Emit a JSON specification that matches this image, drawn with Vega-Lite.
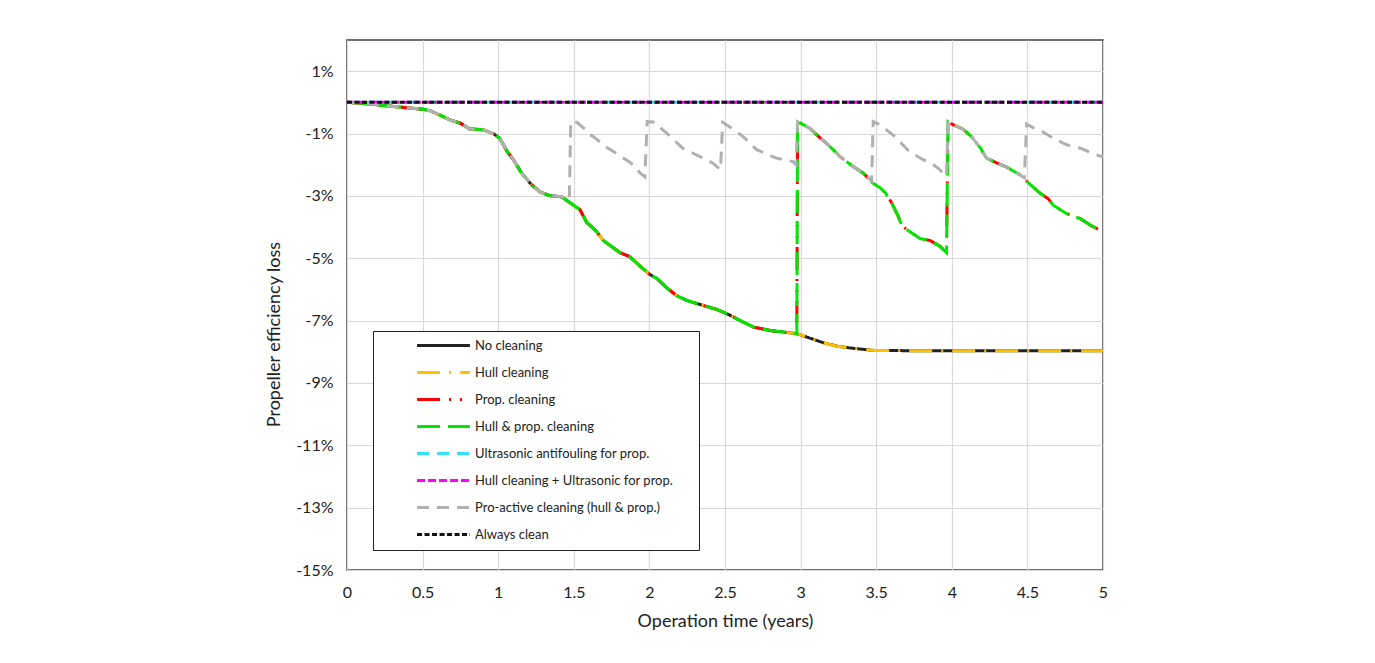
{
  "$schema": "https://vega.github.io/schema/vega-lite/v6.json",
  "width": 756,
  "height": 530,
  "autosize": {"type": "none"},
  "padding": {"left": 347, "top": 40, "right": 272, "bottom": 93},
  "background": "white",
  "config": {
    "font": "Lato",
    "view": {"stroke": "#404040", "strokeWidth": 1.5},
    "axis": {"labelFont": "Lato", "titleFont": "Lato", "labelColor": "#222", "titleColor": "#222", "titleFontWeight": "normal"}
  },
  "data": {
    "values": [
      {"s": "No cleaning", "t": 0, "v": 0}, {"s": "No cleaning", "t": 0.1, "v": -0.03}, {"s": "No cleaning", "t": 0.22, "v": -0.09}, {"s": "No cleaning", "t": 0.39, "v": -0.17}, {"s": "No cleaning", "t": 0.5, "v": -0.22}, {"s": "No cleaning", "t": 0.55, "v": -0.27}, {"s": "No cleaning", "t": 0.615, "v": -0.41}, {"s": "No cleaning", "t": 0.68, "v": -0.56}, {"s": "No cleaning", "t": 0.75, "v": -0.67}, {"s": "No cleaning", "t": 0.81, "v": -0.85}, {"s": "No cleaning", "t": 0.9, "v": -0.88}, {"s": "No cleaning", "t": 0.97, "v": -1.01}, {"s": "No cleaning", "t": 1.01, "v": -1.15}, {"s": "No cleaning", "t": 1.06, "v": -1.58}, {"s": "No cleaning", "t": 1.1, "v": -1.84}, {"s": "No cleaning", "t": 1.155, "v": -2.27}, {"s": "No cleaning", "t": 1.22, "v": -2.64}, {"s": "No cleaning", "t": 1.28, "v": -2.88}, {"s": "No cleaning", "t": 1.34, "v": -2.99}, {"s": "No cleaning", "t": 1.42, "v": -3.03}, {"s": "No cleaning", "t": 1.475, "v": -3.22}, {"s": "No cleaning", "t": 1.54, "v": -3.44}, {"s": "No cleaning", "t": 1.585, "v": -3.85}, {"s": "No cleaning", "t": 1.65, "v": -4.14}, {"s": "No cleaning", "t": 1.695, "v": -4.43}, {"s": "No cleaning", "t": 1.74, "v": -4.59}, {"s": "No cleaning", "t": 1.806, "v": -4.82}, {"s": "No cleaning", "t": 1.87, "v": -4.95}, {"s": "No cleaning", "t": 1.94, "v": -5.26}, {"s": "No cleaning", "t": 2.0, "v": -5.51}, {"s": "No cleaning", "t": 2.05, "v": -5.65}, {"s": "No cleaning", "t": 2.11, "v": -5.93}, {"s": "No cleaning", "t": 2.18, "v": -6.2}, {"s": "No cleaning", "t": 2.25, "v": -6.36}, {"s": "No cleaning", "t": 2.36, "v": -6.52}, {"s": "No cleaning", "t": 2.45, "v": -6.65}, {"s": "No cleaning", "t": 2.53, "v": -6.82}, {"s": "No cleaning", "t": 2.6, "v": -7.0}, {"s": "No cleaning", "t": 2.69, "v": -7.21}, {"s": "No cleaning", "t": 2.8, "v": -7.32}, {"s": "No cleaning", "t": 2.89, "v": -7.37}, {"s": "No cleaning", "t": 2.975, "v": -7.42}, {"s": "No cleaning", "t": 3.06, "v": -7.56}, {"s": "No cleaning", "t": 3.15, "v": -7.71}, {"s": "No cleaning", "t": 3.24, "v": -7.82}, {"s": "No cleaning", "t": 3.33, "v": -7.88}, {"s": "No cleaning", "t": 3.49, "v": -7.96}, {"s": "No cleaning", "t": 4.0, "v": -7.97}, {"s": "No cleaning", "t": 5.0, "v": -7.97},

      {"s": "Hull cleaning", "t": 0, "v": 0}, {"s": "Hull cleaning", "t": 0.1, "v": -0.03}, {"s": "Hull cleaning", "t": 0.22, "v": -0.09}, {"s": "Hull cleaning", "t": 0.39, "v": -0.17}, {"s": "Hull cleaning", "t": 0.5, "v": -0.22}, {"s": "Hull cleaning", "t": 0.55, "v": -0.27}, {"s": "Hull cleaning", "t": 0.615, "v": -0.41}, {"s": "Hull cleaning", "t": 0.68, "v": -0.56}, {"s": "Hull cleaning", "t": 0.75, "v": -0.67}, {"s": "Hull cleaning", "t": 0.81, "v": -0.85}, {"s": "Hull cleaning", "t": 0.9, "v": -0.88}, {"s": "Hull cleaning", "t": 0.97, "v": -1.01}, {"s": "Hull cleaning", "t": 1.01, "v": -1.15}, {"s": "Hull cleaning", "t": 1.06, "v": -1.58}, {"s": "Hull cleaning", "t": 1.1, "v": -1.84}, {"s": "Hull cleaning", "t": 1.155, "v": -2.27}, {"s": "Hull cleaning", "t": 1.22, "v": -2.64}, {"s": "Hull cleaning", "t": 1.28, "v": -2.88}, {"s": "Hull cleaning", "t": 1.34, "v": -2.99}, {"s": "Hull cleaning", "t": 1.42, "v": -3.03}, {"s": "Hull cleaning", "t": 1.475, "v": -3.22}, {"s": "Hull cleaning", "t": 1.54, "v": -3.44}, {"s": "Hull cleaning", "t": 1.585, "v": -3.85}, {"s": "Hull cleaning", "t": 1.65, "v": -4.14}, {"s": "Hull cleaning", "t": 1.695, "v": -4.43}, {"s": "Hull cleaning", "t": 1.74, "v": -4.59}, {"s": "Hull cleaning", "t": 1.806, "v": -4.82}, {"s": "Hull cleaning", "t": 1.87, "v": -4.95}, {"s": "Hull cleaning", "t": 1.94, "v": -5.26}, {"s": "Hull cleaning", "t": 2.0, "v": -5.51}, {"s": "Hull cleaning", "t": 2.05, "v": -5.65}, {"s": "Hull cleaning", "t": 2.11, "v": -5.93}, {"s": "Hull cleaning", "t": 2.18, "v": -6.2}, {"s": "Hull cleaning", "t": 2.25, "v": -6.36}, {"s": "Hull cleaning", "t": 2.36, "v": -6.52}, {"s": "Hull cleaning", "t": 2.45, "v": -6.65}, {"s": "Hull cleaning", "t": 2.53, "v": -6.82}, {"s": "Hull cleaning", "t": 2.6, "v": -7.0}, {"s": "Hull cleaning", "t": 2.69, "v": -7.21}, {"s": "Hull cleaning", "t": 2.8, "v": -7.32}, {"s": "Hull cleaning", "t": 2.89, "v": -7.37}, {"s": "Hull cleaning", "t": 2.975, "v": -7.42}, {"s": "Hull cleaning", "t": 3.06, "v": -7.56}, {"s": "Hull cleaning", "t": 3.15, "v": -7.71}, {"s": "Hull cleaning", "t": 3.24, "v": -7.82}, {"s": "Hull cleaning", "t": 3.33, "v": -7.88}, {"s": "Hull cleaning", "t": 3.49, "v": -7.96}, {"s": "Hull cleaning", "t": 4.0, "v": -7.97}, {"s": "Hull cleaning", "t": 5.0, "v": -7.97},

      {"s": "Prop. cleaning", "t": 0, "v": 0}, {"s": "Prop. cleaning", "t": 0.1, "v": -0.03}, {"s": "Prop. cleaning", "t": 0.22, "v": -0.09}, {"s": "Prop. cleaning", "t": 0.39, "v": -0.17}, {"s": "Prop. cleaning", "t": 0.5, "v": -0.22}, {"s": "Prop. cleaning", "t": 0.55, "v": -0.27}, {"s": "Prop. cleaning", "t": 0.615, "v": -0.41}, {"s": "Prop. cleaning", "t": 0.68, "v": -0.56}, {"s": "Prop. cleaning", "t": 0.75, "v": -0.67}, {"s": "Prop. cleaning", "t": 0.81, "v": -0.85}, {"s": "Prop. cleaning", "t": 0.9, "v": -0.88}, {"s": "Prop. cleaning", "t": 0.97, "v": -1.01}, {"s": "Prop. cleaning", "t": 1.01, "v": -1.15}, {"s": "Prop. cleaning", "t": 1.06, "v": -1.58}, {"s": "Prop. cleaning", "t": 1.1, "v": -1.84}, {"s": "Prop. cleaning", "t": 1.155, "v": -2.27}, {"s": "Prop. cleaning", "t": 1.22, "v": -2.64}, {"s": "Prop. cleaning", "t": 1.28, "v": -2.88}, {"s": "Prop. cleaning", "t": 1.34, "v": -2.99}, {"s": "Prop. cleaning", "t": 1.42, "v": -3.03}, {"s": "Prop. cleaning", "t": 1.475, "v": -3.22}, {"s": "Prop. cleaning", "t": 1.54, "v": -3.44}, {"s": "Prop. cleaning", "t": 1.585, "v": -3.85}, {"s": "Prop. cleaning", "t": 1.65, "v": -4.14}, {"s": "Prop. cleaning", "t": 1.695, "v": -4.43}, {"s": "Prop. cleaning", "t": 1.74, "v": -4.59}, {"s": "Prop. cleaning", "t": 1.806, "v": -4.82}, {"s": "Prop. cleaning", "t": 1.87, "v": -4.95}, {"s": "Prop. cleaning", "t": 1.94, "v": -5.26}, {"s": "Prop. cleaning", "t": 2.0, "v": -5.51}, {"s": "Prop. cleaning", "t": 2.05, "v": -5.65}, {"s": "Prop. cleaning", "t": 2.11, "v": -5.93}, {"s": "Prop. cleaning", "t": 2.18, "v": -6.2}, {"s": "Prop. cleaning", "t": 2.25, "v": -6.36}, {"s": "Prop. cleaning", "t": 2.36, "v": -6.52}, {"s": "Prop. cleaning", "t": 2.45, "v": -6.65}, {"s": "Prop. cleaning", "t": 2.53, "v": -6.82}, {"s": "Prop. cleaning", "t": 2.6, "v": -7.0}, {"s": "Prop. cleaning", "t": 2.69, "v": -7.21}, {"s": "Prop. cleaning", "t": 2.8, "v": -7.32}, {"s": "Prop. cleaning", "t": 2.89, "v": -7.37}, {"s": "Prop. cleaning", "t": 2.975, "v": -7.42}, {"s": "Prop. cleaning", "t": 2.98, "v": -0.62}, {"s": "Prop. cleaning", "t": 3.02, "v": -0.72}, {"s": "Prop. cleaning", "t": 3.06, "v": -0.83}, {"s": "Prop. cleaning", "t": 3.13, "v": -1.15}, {"s": "Prop. cleaning", "t": 3.17, "v": -1.31}, {"s": "Prop. cleaning", "t": 3.24, "v": -1.63}, {"s": "Prop. cleaning", "t": 3.26, "v": -1.74}, {"s": "Prop. cleaning", "t": 3.305, "v": -1.9}, {"s": "Prop. cleaning", "t": 3.35, "v": -2.07}, {"s": "Prop. cleaning", "t": 3.415, "v": -2.27}, {"s": "Prop. cleaning", "t": 3.48, "v": -2.6}, {"s": "Prop. cleaning", "t": 3.525, "v": -2.74}, {"s": "Prop. cleaning", "t": 3.56, "v": -2.9}, {"s": "Prop. cleaning", "t": 3.6, "v": -3.2}, {"s": "Prop. cleaning", "t": 3.645, "v": -3.65}, {"s": "Prop. cleaning", "t": 3.67, "v": -3.95}, {"s": "Prop. cleaning", "t": 3.7, "v": -4.07}, {"s": "Prop. cleaning", "t": 3.79, "v": -4.37}, {"s": "Prop. cleaning", "t": 3.855, "v": -4.43}, {"s": "Prop. cleaning", "t": 3.92, "v": -4.61}, {"s": "Prop. cleaning", "t": 3.965, "v": -4.82}, {"s": "Prop. cleaning", "t": 3.975, "v": -0.62}, {"s": "Prop. cleaning", "t": 4.01, "v": -0.72}, {"s": "Prop. cleaning", "t": 4.075, "v": -0.86}, {"s": "Prop. cleaning", "t": 4.13, "v": -1.1}, {"s": "Prop. cleaning", "t": 4.19, "v": -1.47}, {"s": "Prop. cleaning", "t": 4.23, "v": -1.79}, {"s": "Prop. cleaning", "t": 4.3, "v": -1.95}, {"s": "Prop. cleaning", "t": 4.36, "v": -2.07}, {"s": "Prop. cleaning", "t": 4.45, "v": -2.32}, {"s": "Prop. cleaning", "t": 4.52, "v": -2.64}, {"s": "Prop. cleaning", "t": 4.58, "v": -2.9}, {"s": "Prop. cleaning", "t": 4.64, "v": -3.1}, {"s": "Prop. cleaning", "t": 4.67, "v": -3.3}, {"s": "Prop. cleaning", "t": 4.76, "v": -3.57}, {"s": "Prop. cleaning", "t": 4.85, "v": -3.73}, {"s": "Prop. cleaning", "t": 4.92, "v": -3.95}, {"s": "Prop. cleaning", "t": 5.0, "v": -4.15},

      {"s": "Hull & prop. cleaning", "t": 0, "v": 0}, {"s": "Hull & prop. cleaning", "t": 0.1, "v": -0.03}, {"s": "Hull & prop. cleaning", "t": 0.22, "v": -0.09}, {"s": "Hull & prop. cleaning", "t": 0.39, "v": -0.17}, {"s": "Hull & prop. cleaning", "t": 0.5, "v": -0.22}, {"s": "Hull & prop. cleaning", "t": 0.55, "v": -0.27}, {"s": "Hull & prop. cleaning", "t": 0.615, "v": -0.41}, {"s": "Hull & prop. cleaning", "t": 0.68, "v": -0.56}, {"s": "Hull & prop. cleaning", "t": 0.75, "v": -0.67}, {"s": "Hull & prop. cleaning", "t": 0.81, "v": -0.85}, {"s": "Hull & prop. cleaning", "t": 0.9, "v": -0.88}, {"s": "Hull & prop. cleaning", "t": 0.97, "v": -1.01}, {"s": "Hull & prop. cleaning", "t": 1.01, "v": -1.15}, {"s": "Hull & prop. cleaning", "t": 1.06, "v": -1.58}, {"s": "Hull & prop. cleaning", "t": 1.1, "v": -1.84}, {"s": "Hull & prop. cleaning", "t": 1.155, "v": -2.27}, {"s": "Hull & prop. cleaning", "t": 1.22, "v": -2.64}, {"s": "Hull & prop. cleaning", "t": 1.28, "v": -2.88}, {"s": "Hull & prop. cleaning", "t": 1.34, "v": -2.99}, {"s": "Hull & prop. cleaning", "t": 1.42, "v": -3.03}, {"s": "Hull & prop. cleaning", "t": 1.475, "v": -3.22}, {"s": "Hull & prop. cleaning", "t": 1.54, "v": -3.44}, {"s": "Hull & prop. cleaning", "t": 1.585, "v": -3.85}, {"s": "Hull & prop. cleaning", "t": 1.65, "v": -4.14}, {"s": "Hull & prop. cleaning", "t": 1.695, "v": -4.43}, {"s": "Hull & prop. cleaning", "t": 1.74, "v": -4.59}, {"s": "Hull & prop. cleaning", "t": 1.806, "v": -4.82}, {"s": "Hull & prop. cleaning", "t": 1.87, "v": -4.95}, {"s": "Hull & prop. cleaning", "t": 1.94, "v": -5.26}, {"s": "Hull & prop. cleaning", "t": 2.0, "v": -5.51}, {"s": "Hull & prop. cleaning", "t": 2.05, "v": -5.65}, {"s": "Hull & prop. cleaning", "t": 2.11, "v": -5.93}, {"s": "Hull & prop. cleaning", "t": 2.18, "v": -6.2}, {"s": "Hull & prop. cleaning", "t": 2.25, "v": -6.36}, {"s": "Hull & prop. cleaning", "t": 2.36, "v": -6.52}, {"s": "Hull & prop. cleaning", "t": 2.45, "v": -6.65}, {"s": "Hull & prop. cleaning", "t": 2.53, "v": -6.82}, {"s": "Hull & prop. cleaning", "t": 2.6, "v": -7.0}, {"s": "Hull & prop. cleaning", "t": 2.69, "v": -7.21}, {"s": "Hull & prop. cleaning", "t": 2.8, "v": -7.32}, {"s": "Hull & prop. cleaning", "t": 2.89, "v": -7.37}, {"s": "Hull & prop. cleaning", "t": 2.975, "v": -7.42}, {"s": "Hull & prop. cleaning", "t": 2.98, "v": -0.62}, {"s": "Hull & prop. cleaning", "t": 3.02, "v": -0.72}, {"s": "Hull & prop. cleaning", "t": 3.06, "v": -0.83}, {"s": "Hull & prop. cleaning", "t": 3.13, "v": -1.15}, {"s": "Hull & prop. cleaning", "t": 3.17, "v": -1.31}, {"s": "Hull & prop. cleaning", "t": 3.24, "v": -1.63}, {"s": "Hull & prop. cleaning", "t": 3.26, "v": -1.74}, {"s": "Hull & prop. cleaning", "t": 3.305, "v": -1.9}, {"s": "Hull & prop. cleaning", "t": 3.35, "v": -2.07}, {"s": "Hull & prop. cleaning", "t": 3.415, "v": -2.27}, {"s": "Hull & prop. cleaning", "t": 3.48, "v": -2.6}, {"s": "Hull & prop. cleaning", "t": 3.525, "v": -2.74}, {"s": "Hull & prop. cleaning", "t": 3.56, "v": -2.9}, {"s": "Hull & prop. cleaning", "t": 3.6, "v": -3.2}, {"s": "Hull & prop. cleaning", "t": 3.645, "v": -3.65}, {"s": "Hull & prop. cleaning", "t": 3.67, "v": -3.95}, {"s": "Hull & prop. cleaning", "t": 3.7, "v": -4.07}, {"s": "Hull & prop. cleaning", "t": 3.79, "v": -4.37}, {"s": "Hull & prop. cleaning", "t": 3.855, "v": -4.43}, {"s": "Hull & prop. cleaning", "t": 3.92, "v": -4.61}, {"s": "Hull & prop. cleaning", "t": 3.965, "v": -4.82}, {"s": "Hull & prop. cleaning", "t": 3.975, "v": -0.62}, {"s": "Hull & prop. cleaning", "t": 4.01, "v": -0.72}, {"s": "Hull & prop. cleaning", "t": 4.075, "v": -0.86}, {"s": "Hull & prop. cleaning", "t": 4.13, "v": -1.1}, {"s": "Hull & prop. cleaning", "t": 4.19, "v": -1.47}, {"s": "Hull & prop. cleaning", "t": 4.23, "v": -1.79}, {"s": "Hull & prop. cleaning", "t": 4.3, "v": -1.95}, {"s": "Hull & prop. cleaning", "t": 4.36, "v": -2.07}, {"s": "Hull & prop. cleaning", "t": 4.45, "v": -2.32}, {"s": "Hull & prop. cleaning", "t": 4.52, "v": -2.64}, {"s": "Hull & prop. cleaning", "t": 4.58, "v": -2.9}, {"s": "Hull & prop. cleaning", "t": 4.64, "v": -3.1}, {"s": "Hull & prop. cleaning", "t": 4.67, "v": -3.3}, {"s": "Hull & prop. cleaning", "t": 4.76, "v": -3.57}, {"s": "Hull & prop. cleaning", "t": 4.85, "v": -3.73}, {"s": "Hull & prop. cleaning", "t": 4.92, "v": -3.95}, {"s": "Hull & prop. cleaning", "t": 5.0, "v": -4.15},

      {"s": "Ultrasonic antifouling for prop.", "t": 0, "v": 0}, {"s": "Ultrasonic antifouling for prop.", "t": 5, "v": 0},
      {"s": "Hull cleaning + Ultrasonic for prop.", "t": 0, "v": 0}, {"s": "Hull cleaning + Ultrasonic for prop.", "t": 5, "v": 0},

      {"s": "Pro-active cleaning (hull & prop.)", "t": 0, "v": 0}, {"s": "Pro-active cleaning (hull & prop.)", "t": 0.1, "v": -0.03}, {"s": "Pro-active cleaning (hull & prop.)", "t": 0.22, "v": -0.09}, {"s": "Pro-active cleaning (hull & prop.)", "t": 0.39, "v": -0.17}, {"s": "Pro-active cleaning (hull & prop.)", "t": 0.5, "v": -0.22}, {"s": "Pro-active cleaning (hull & prop.)", "t": 0.55, "v": -0.27}, {"s": "Pro-active cleaning (hull & prop.)", "t": 0.615, "v": -0.41}, {"s": "Pro-active cleaning (hull & prop.)", "t": 0.68, "v": -0.56}, {"s": "Pro-active cleaning (hull & prop.)", "t": 0.75, "v": -0.67}, {"s": "Pro-active cleaning (hull & prop.)", "t": 0.81, "v": -0.85}, {"s": "Pro-active cleaning (hull & prop.)", "t": 0.9, "v": -0.88}, {"s": "Pro-active cleaning (hull & prop.)", "t": 0.97, "v": -1.01}, {"s": "Pro-active cleaning (hull & prop.)", "t": 1.01, "v": -1.15}, {"s": "Pro-active cleaning (hull & prop.)", "t": 1.06, "v": -1.58}, {"s": "Pro-active cleaning (hull & prop.)", "t": 1.1, "v": -1.84}, {"s": "Pro-active cleaning (hull & prop.)", "t": 1.155, "v": -2.27}, {"s": "Pro-active cleaning (hull & prop.)", "t": 1.22, "v": -2.64}, {"s": "Pro-active cleaning (hull & prop.)", "t": 1.28, "v": -2.88}, {"s": "Pro-active cleaning (hull & prop.)", "t": 1.34, "v": -2.99}, {"s": "Pro-active cleaning (hull & prop.)", "t": 1.42, "v": -3.03}, {"s": "Pro-active cleaning (hull & prop.)", "t": 1.47, "v": -3.12}, {"s": "Pro-active cleaning (hull & prop.)", "t": 1.48, "v": -0.62}, {"s": "Pro-active cleaning (hull & prop.)", "t": 1.52, "v": -0.64}, {"s": "Pro-active cleaning (hull & prop.)", "t": 1.56, "v": -0.8}, {"s": "Pro-active cleaning (hull & prop.)", "t": 1.607, "v": -1.04}, {"s": "Pro-active cleaning (hull & prop.)", "t": 1.63, "v": -1.1}, {"s": "Pro-active cleaning (hull & prop.)", "t": 1.717, "v": -1.44}, {"s": "Pro-active cleaning (hull & prop.)", "t": 1.83, "v": -1.79}, {"s": "Pro-active cleaning (hull & prop.)", "t": 1.88, "v": -1.95}, {"s": "Pro-active cleaning (hull & prop.)", "t": 1.94, "v": -2.27}, {"s": "Pro-active cleaning (hull & prop.)", "t": 1.97, "v": -2.39}, {"s": "Pro-active cleaning (hull & prop.)", "t": 1.985, "v": -0.62}, {"s": "Pro-active cleaning (hull & prop.)", "t": 2.026, "v": -0.63}, {"s": "Pro-active cleaning (hull & prop.)", "t": 2.115, "v": -0.99}, {"s": "Pro-active cleaning (hull & prop.)", "t": 2.22, "v": -1.47}, {"s": "Pro-active cleaning (hull & prop.)", "t": 2.335, "v": -1.74}, {"s": "Pro-active cleaning (hull & prop.)", "t": 2.42, "v": -1.95}, {"s": "Pro-active cleaning (hull & prop.)", "t": 2.47, "v": -2.16}, {"s": "Pro-active cleaning (hull & prop.)", "t": 2.485, "v": -0.64}, {"s": "Pro-active cleaning (hull & prop.)", "t": 2.53, "v": -0.78}, {"s": "Pro-active cleaning (hull & prop.)", "t": 2.62, "v": -1.1}, {"s": "Pro-active cleaning (hull & prop.)", "t": 2.71, "v": -1.52}, {"s": "Pro-active cleaning (hull & prop.)", "t": 2.84, "v": -1.79}, {"s": "Pro-active cleaning (hull & prop.)", "t": 2.95, "v": -1.9}, {"s": "Pro-active cleaning (hull & prop.)", "t": 2.97, "v": -2.0}, {"s": "Pro-active cleaning (hull & prop.)", "t": 2.98, "v": -0.62}, {"s": "Pro-active cleaning (hull & prop.)", "t": 3.02, "v": -0.72}, {"s": "Pro-active cleaning (hull & prop.)", "t": 3.06, "v": -0.83}, {"s": "Pro-active cleaning (hull & prop.)", "t": 3.13, "v": -1.15}, {"s": "Pro-active cleaning (hull & prop.)", "t": 3.17, "v": -1.31}, {"s": "Pro-active cleaning (hull & prop.)", "t": 3.24, "v": -1.63}, {"s": "Pro-active cleaning (hull & prop.)", "t": 3.26, "v": -1.74}, {"s": "Pro-active cleaning (hull & prop.)", "t": 3.305, "v": -1.9}, {"s": "Pro-active cleaning (hull & prop.)", "t": 3.35, "v": -2.07}, {"s": "Pro-active cleaning (hull & prop.)", "t": 3.415, "v": -2.27}, {"s": "Pro-active cleaning (hull & prop.)", "t": 3.47, "v": -2.52}, {"s": "Pro-active cleaning (hull & prop.)", "t": 3.48, "v": -0.62}, {"s": "Pro-active cleaning (hull & prop.)", "t": 3.525, "v": -0.72}, {"s": "Pro-active cleaning (hull & prop.)", "t": 3.61, "v": -1.04}, {"s": "Pro-active cleaning (hull & prop.)", "t": 3.655, "v": -1.26}, {"s": "Pro-active cleaning (hull & prop.)", "t": 3.72, "v": -1.58}, {"s": "Pro-active cleaning (hull & prop.)", "t": 3.81, "v": -1.84}, {"s": "Pro-active cleaning (hull & prop.)", "t": 3.865, "v": -1.95}, {"s": "Pro-active cleaning (hull & prop.)", "t": 3.92, "v": -2.16}, {"s": "Pro-active cleaning (hull & prop.)", "t": 3.965, "v": -2.37}, {"s": "Pro-active cleaning (hull & prop.)", "t": 3.975, "v": -0.62}, {"s": "Pro-active cleaning (hull & prop.)", "t": 4.01, "v": -0.72}, {"s": "Pro-active cleaning (hull & prop.)", "t": 4.075, "v": -0.86}, {"s": "Pro-active cleaning (hull & prop.)", "t": 4.13, "v": -1.1}, {"s": "Pro-active cleaning (hull & prop.)", "t": 4.19, "v": -1.47}, {"s": "Pro-active cleaning (hull & prop.)", "t": 4.23, "v": -1.79}, {"s": "Pro-active cleaning (hull & prop.)", "t": 4.3, "v": -1.95}, {"s": "Pro-active cleaning (hull & prop.)", "t": 4.36, "v": -2.07}, {"s": "Pro-active cleaning (hull & prop.)", "t": 4.45, "v": -2.32}, {"s": "Pro-active cleaning (hull & prop.)", "t": 4.48, "v": -2.42}, {"s": "Pro-active cleaning (hull & prop.)", "t": 4.495, "v": -0.7}, {"s": "Pro-active cleaning (hull & prop.)", "t": 4.54, "v": -0.82}, {"s": "Pro-active cleaning (hull & prop.)", "t": 4.58, "v": -0.88}, {"s": "Pro-active cleaning (hull & prop.)", "t": 4.67, "v": -1.15}, {"s": "Pro-active cleaning (hull & prop.)", "t": 4.76, "v": -1.36}, {"s": "Pro-active cleaning (hull & prop.)", "t": 4.85, "v": -1.47}, {"s": "Pro-active cleaning (hull & prop.)", "t": 4.95, "v": -1.68}, {"s": "Pro-active cleaning (hull & prop.)", "t": 5.0, "v": -1.75},

      {"s": "Always clean", "t": 0, "v": 0}, {"s": "Always clean", "t": 5, "v": 0}
    ]
  },
  "mark": {"type": "line", "clip": true},
  "encoding": {
    "x": {
      "field": "t", "type": "quantitative",
      "scale": {"domain": [0, 5], "nice": false},
      "axis": {
        "title": "Operation time (years)", "titleFontSize": 18, "titlePadding": 12,
        "values": [0, 0.5, 1, 1.5, 2, 2.5, 3, 3.5, 4, 4.5, 5],
        "labelExpr": "'' + datum.value", "labelFontSize": 16, "labelPadding": 14, "labelFlush": false,
        "ticks": false, "domain": false, "grid": true, "gridColor": "#D9D9D9", "gridWidth": 1.2
      }
    },
    "y": {
      "field": "v", "type": "quantitative",
      "scale": {"domain": [-15, 2], "nice": false},
      "axis": {
        "title": "Propeller efficiency loss", "titleFontSize": 18, "titlePadding": 12, "titleY": 294,
        "values": [-15, -13, -11, -9, -7, -5, -3, -1, 1],
        "labelExpr": "datum.value + '%'", "labelFontSize": 16, "labelPadding": 14, "labelFlush": false,
        "ticks": false, "domain": false, "grid": true, "gridColor": "#D9D9D9", "gridWidth": 1.2
      }
    },
    "color": {
      "field": "s", "type": "nominal",
      "scale": {
        "domain": ["No cleaning", "Hull cleaning", "Prop. cleaning", "Hull & prop. cleaning", "Ultrasonic antifouling for prop.", "Hull cleaning + Ultrasonic for prop.", "Pro-active cleaning (hull & prop.)", "Always clean"],
        "range": ["#222222", "#FFC000", "#FF0000", "#00E600", "#33E0FF", "#FF00FF", "#B0B0B0", "#111111"]
      },
      "legend": {
        "title": "\u00a0", "titleOrient": "right", "titlePadding": 18, "titleFontSize": 13,
        "orient": "none", "legendX": 26, "legendY": 291,
        "strokeColor": "#222", "fillColor": "white", "padding": 8,
        "symbolType": "M-10,0H10", "symbolSize": 28,
        "symbolOffset": 56, "labelFont": "Lato", "labelFontSize": 13, "labelColor": "#222",
        "rowPadding": 13, "labelOffset": 25, "labelLimit": 400
      }
    },
    "strokeDash": {
      "field": "s", "type": "nominal",
      "scale": {
        "domain": ["No cleaning", "Hull cleaning", "Prop. cleaning", "Hull & prop. cleaning", "Ultrasonic antifouling for prop.", "Hull cleaning + Ultrasonic for prop.", "Pro-active cleaning (hull & prop.)", "Always clean"],
        "range": [[1, 0], [23, 9, 2, 9], [23, 9, 2, 9, 2, 9], [23, 8], [12, 8], [8, 3], [12, 8], [5, 2.5]]
      }
    },
    "strokeWidth": {
      "field": "s", "type": "nominal",
      "scale": {
        "domain": ["No cleaning", "Hull cleaning", "Prop. cleaning", "Hull & prop. cleaning", "Ultrasonic antifouling for prop.", "Hull cleaning + Ultrasonic for prop.", "Pro-active cleaning (hull & prop.)", "Always clean"],
        "range": [3, 3, 3, 3, 3, 3, 3, 1.8]
      }
    }
  }
}
